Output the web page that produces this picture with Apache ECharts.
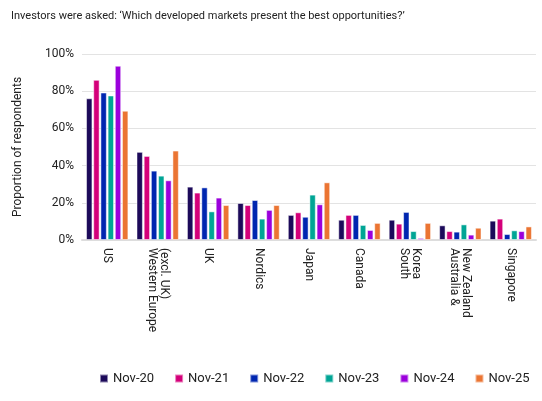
<!DOCTYPE html>
<html><head><meta charset="utf-8">
<script src="https://cdn.jsdelivr.net/npm/echarts@6/dist/echarts.min.js"></script>
<style>html,body{margin:0;padding:0;background:#fff}#c{width:542px;height:401px}</style>
</head><body><div id="c"></div>
<script>
const categories = ['US','(excl. UK)\nWestern Europe','UK','Nordics','Japan','Canada','Korea\nSouth','New Zealand\nAustralia &','Singapore'];
const seriesNames = ['Nov-20','Nov-21','Nov-22','Nov-23','Nov-24','Nov-25'];
const nov20 = [76.2,47.4,28.7,19.9,13.5,10.9,10.9,7.9,10.4];
const nov21 = [86.1,45.2,25.5,18.8,14.9,13.5,8.8,4.8,11.5];
const nov22 = [79.3,37.3,28.3,21.5,12.5,13.5,15.1,4.5,3.2];
const nov23 = [77.7,34.6,15.4,11.5,24.4,8.1,4.8,8.4,5.2];
const nov24 = [93.7,32.1,22.8,16.2,19.2,5.4,1.1,2.9,4.8];
const nov25 = [69.5,48.1,18.8,18.8,31.0,9.2,9.2,6.6,7.3];
const yTicks = [0,20,40,60,80,100];
const colors = ['#1c0a5a','#d4007a','#0026b0','#00a595','#9b00dc','#eb7533'];
const data = [nov20,nov21,nov22,nov23,nov24,nov25];
const chart = echarts.init(document.getElementById('c'));
chart.setOption({
  animation:false,
  textStyle:{fontFamily:'Roboto, Noto Sans, sans-serif'},
  title:{text:"Investors were asked: \u2018Which developed markets present the best opportunities?\u2019",left:6,top:6,textStyle:{fontSize:11,fontWeight:'normal',color:'#222'}},
  legend:{bottom:11,left:94,itemWidth:8,itemHeight:8,itemGap:20,icon:'rect',textStyle:{fontSize:13,color:'#222'},data:seriesNames},
  grid:{left:82,right:6,top:54,bottom:161,containLabel:false},
  xAxis:{type:'category',data:categories,axisTick:{show:false},
    axisLine:{lineStyle:{color:'#ddd',width:2}},
    axisLabel:{rotate:-90,fontSize:12,color:'#222',margin:8,interval:0,align:'left',verticalAlign:'middle'}},
  yAxis:{type:'value',min:0,max:100,interval:20,
    name:'Proportion of respondents',nameLocation:'middle',nameGap:58,nameRotate:90,
    nameTextStyle:{fontSize:12,color:'#222'},
    axisLabel:{formatter:v=>v+'%',fontSize:12,color:'#222'},
    splitLine:{lineStyle:{color:'#e3e3e3',width:1}}},
  series: seriesNames.map((n,i)=>({name:n,type:'bar',data:data[i],barGap:'12%',barCategoryGap:'16%',
    itemStyle:{color:colors[i],borderColor:'rgba(255,255,255,0.5)',borderWidth:1}}))
});
</script></body></html>
